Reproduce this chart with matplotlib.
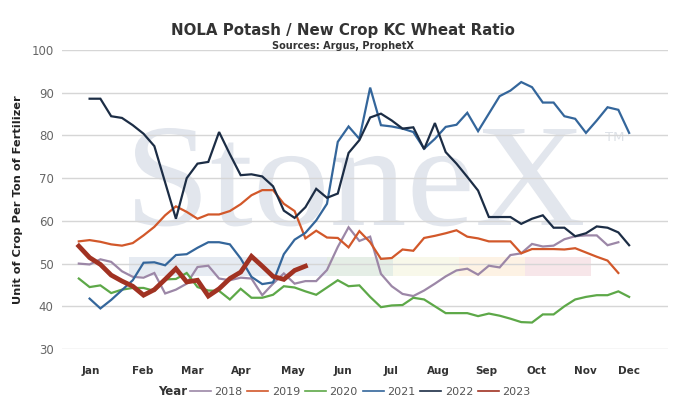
import matplotlib
matplotlib.use("Agg")
import matplotlib.pyplot as plt
from matplotlib.lines import Line2D
from matplotlib.patches import Rectangle, PathPatch
from matplotlib.textpath import TextPath
from matplotlib.font_manager import FontProperties
from matplotlib.transforms import Affine2D
import numpy as np

# ---- data (weekly ratio, week number on x) ----
weeks_18 = np.arange(1, 52)
r2018 = [50.0, 49.8, 51.0, 50.4, 48.2, 46.9, 46.7, 47.8, 43.0, 43.9,
         45.3, 49.2, 49.5, 46.5, 46.1, 46.7, 46.5, 42.6, 45.3, 47.7,
         45.3, 45.9, 45.9, 48.5, 53.9, 58.5, 55.3, 56.3, 47.6, 44.7,
         42.9, 42.4, 43.7, 45.3, 47.0, 48.4, 48.8, 47.4, 49.5, 49.1,
         52.0, 52.4, 54.6, 54.0, 54.2, 55.7, 56.4, 56.6, 56.6, 54.3, 55.0]

weeks_19 = np.arange(1, 52)
r2019 = [55.2, 55.5, 55.1, 54.5, 54.2, 54.8, 56.6, 58.6, 61.3, 63.4,
         62.1, 60.5, 61.5, 61.5, 62.3, 63.9, 66.0, 67.2, 67.2, 64.0,
         62.3, 55.9, 57.7, 56.1, 56.0, 53.8, 57.6, 55.0, 51.1, 51.3,
         53.3, 53.0, 56.0, 56.5, 57.1, 57.8, 56.3, 55.9, 55.2, 55.2,
         55.2, 52.4, 53.4, 53.4, 53.4, 53.3, 53.6, 52.6, 51.6, 50.7, 47.8]

weeks_20 = np.arange(1, 53)
r2020 = [46.5, 44.5, 44.9, 43.1, 43.9, 44.3, 44.3, 43.6, 46.3, 46.4,
         47.8, 44.5, 43.7, 43.6, 41.6, 44.1, 42.0, 42.0, 42.7, 44.7,
         44.4, 43.5, 42.7, 44.4, 46.1, 44.7, 44.9, 42.2, 39.8, 40.2,
         40.3, 42.0, 41.6, 40.0, 38.4, 38.4, 38.4, 37.7, 38.3, 37.8,
         37.1, 36.3, 36.2, 38.1, 38.1, 40.0, 41.6, 42.2, 42.6, 42.6,
         43.5, 42.2]

weeks_21 = np.arange(2, 53)
r2021 = [41.8, 39.5, 41.5, 43.8, 46.1, 50.2, 50.3, 49.6, 52.0, 52.2,
         53.7, 55.0, 55.0, 54.5, 51.2, 46.9, 45.2, 45.6, 52.2, 55.6,
         57.2, 60.1, 64.0, 78.5, 82.1, 79.2, 91.2, 82.4, 82.1, 81.6,
         80.8, 76.9, 79.2, 82.0, 82.5, 85.3, 81.0, 85.1, 89.2, 90.5,
         92.5, 91.3, 87.7, 87.7, 84.5, 83.9, 80.6, 83.5, 86.6, 86.0, 80.6]

weeks_22 = np.arange(2, 53)
r2022 = [88.6, 88.6, 84.5, 84.1, 82.4, 80.4, 77.5, 69.0, 60.5, 70.0,
         73.4, 73.8, 80.8, 75.6, 70.7, 70.9, 70.4, 68.1, 62.4, 60.7,
         63.2, 67.5, 65.4, 66.4, 75.9, 78.9, 84.2, 85.1, 83.5, 81.6,
         81.9, 76.8, 82.9, 76.1, 73.4, 70.3, 67.1, 60.9, 60.9, 60.9,
         59.3, 60.5, 61.3, 58.4, 58.4, 56.4, 57.1, 58.7, 58.4, 57.3, 54.3]

weeks_23 = np.arange(1, 23)
r2023 = [54.1, 51.4, 49.8, 47.3, 45.9, 44.7, 42.6, 43.9, 46.3, 48.8,
         45.7, 46.1, 42.4, 44.1, 46.5, 48.0, 51.7, 49.4, 47.0, 46.3,
         48.4, 49.4]

month_pos = [2.1, 6.9, 11.5, 16.1, 20.8, 25.5, 29.9, 34.3, 38.8, 43.4, 47.9, 52.0]
month_names = ["Jan", "Feb", "Mar", "Apr", "May", "Jun",
               "Jul", "Aug", "Sep", "Oct", "Nov", "Dec"]

series = [
    ("2018", weeks_18, r2018, "#9c87a7", 1.6),
    ("2019", weeks_19, r2019, "#d2582a", 1.6),
    ("2020", weeks_20, r2020, "#5da848", 1.6),
    ("2021", weeks_21, r2021, "#34669b", 1.6),
    ("2022", weeks_22, r2022, "#1c2d45", 1.6),
    ("2023", weeks_23, r2023, "#a13222", 3.4),
]

W, H = 694, 404
fig = plt.figure(figsize=(W / 100, H / 100), dpi=100)
ax = fig.add_axes([0.0893, 0.1361, 0.8732, 0.7401])

ax.set_xlim(-0.56, 55.6)
ax.set_ylim(30, 100)
ax.set_yticks(range(30, 101, 10))
ax.grid(True, axis="y", color="#d6d6d6", lw=1.0)
ax.set_axisbelow(True)
for s in ax.spines.values():
    s.set_visible(False)
ax.tick_params(axis="y", length=0, pad=6, labelsize=8.5, labelcolor="#666666")
ax.set_xticks(month_pos)
ax.set_xticklabels(month_names, fontsize=7.5, fontweight="bold", color="#333333")
ax.tick_params(axis="x", length=0, pad=12)

# watermark (StoneX logo), placed in output pixels
band_cols = ["#e6ebf2", "#e5eee6", "#f8f8ea", "#fdf2e4", "#f7e6e9"]
band_edges = [0.1107, 0.4373, 0.5462, 0.6551, 0.7640, 0.8729]
for c, x0, x1 in zip(band_cols, band_edges[:-1], band_edges[1:]):
    ax.add_patch(Rectangle((x0, 0.243), x1 - x0, 0.064, transform=ax.transAxes,
                           color=c, lw=0, zorder=0))
tp = TextPath((0, 0), "StoneX", size=1, prop=FontProperties(family="Liberation Serif"))
ext = tp.get_extents()
sx = (583 - 135) / ext.width
sy = 97 / 0.662
wm_tr = Affine2D().translate(-ext.x0, 0).scale(sx, sy).translate(135, H - 225)
ax.add_patch(PathPatch(tp, transform=wm_tr, facecolor="#e2e6ed", lw=0, zorder=0))
ax.text(0.9125, 0.706, "TM", transform=ax.transAxes, ha="center", va="center",
        fontsize=9.5, color="#dde1e7", zorder=0)

for name, wk, vals, col, lw in series:
    ax.plot(wk, vals, color=col, lw=lw, solid_joinstyle="miter", zorder=3)

ax.set_ylabel("Unit of Crop Per Ton of Fertilizer", fontsize=8.2,
              fontweight="bold", color="#222222", labelpad=6)

fig.text(0.494, 0.925, "NOLA Potash / New Crop KC Wheat Ratio", ha="center",
         va="center", fontsize=10.8, fontweight="bold", color="#333333")
fig.text(0.494, 0.886, "Sources: Argus, ProphetX", ha="center", va="center",
         fontsize=7, fontweight="bold", color="#333333")

handles = [Line2D([], [], color=c, lw=1.2) for _, _, _, c, _ in series]
labels = [n for n, _, _, _, _ in series]
fig.legend(handles, labels, loc="center", bbox_to_anchor=(0.519, 0.03),
           ncol=6, frameon=False, fontsize=8, handlelength=1.9,
           handletextpad=0.3, columnspacing=0.45, labelcolor="#555555")
fig.text(0.2695, 0.03, "Year", ha="right", va="center", fontsize=8.5,
         fontweight="bold", color="#333333")

fig.savefig("out.png", dpi=100)
